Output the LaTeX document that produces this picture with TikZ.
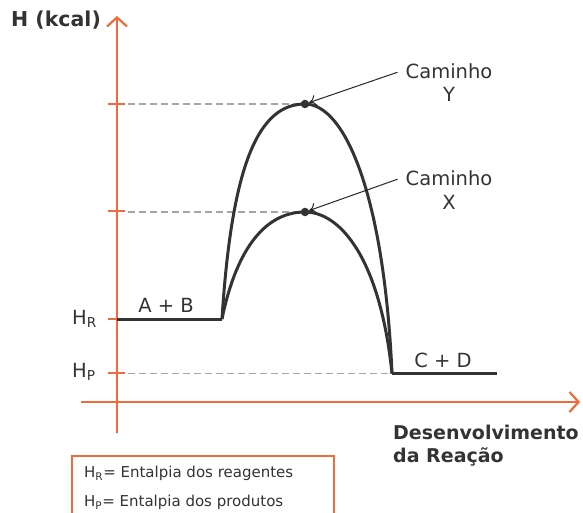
\documentclass[tikz,border=0pt]{standalone}
\usepackage{fontspec}
\setmainfont{DejaVu Sans}
\usetikzlibrary{arrows.meta}
\definecolor{axisor}{RGB}{242,106,60}
\definecolor{ink}{RGB}{51,51,51}
\definecolor{dashgray}{RGB}{165,165,165}
\tikzset{
  axisline/.style={draw=axisor,line width=2.2pt,-{Straight Barb[length=9pt,width=20pt,line width=2.2pt]}},
  tickline/.style={draw=axisor,line width=1.6pt},
  guide/.style={draw=dashgray,line width=1.8pt,dash pattern=on 7pt off 4pt},
  curve/.style={draw=ink,line width=3pt,line join=round},
  pointer/.style={draw=black!85,line width=1pt,-{To[length=7pt,width=11pt]}},
  lbl/.style={text=ink,font=\fontsize{19.5}{23}\selectfont,inner sep=0pt,anchor=base},
  blbl/.style={text=ink,font=\fontsize{19}{23}\selectfont\bfseries,inner sep=0pt,anchor=base west},
  leg/.style={text=ink,font=\fontsize{15}{18}\selectfont,inner sep=0pt,anchor=base west},
  peak/.style={circle,fill=ink,inner sep=0pt,minimum size=8.5pt}
}
\begin{document}
\begin{tikzpicture}[x=1pt,y=-1pt]
\useasboundingbox (0,0) rectangle (583,513);
% axes
\coordinate (ybot) at (117,433);
\coordinate (ytop) at (117,16);
\coordinate (xl) at (81,402);
\coordinate (xr) at (580,402);
\draw[axisline] (ybot) -- (ytop);
\draw[axisline] (xl) -- (xr);
% ticks
\foreach \yy in {104,211,319,373} \draw[tickline] (108,\yy) -- (125,\yy);
% key points
\coordinate (r0) at (117,319);
\coordinate (r1) at (222,319);
\coordinate (p1) at (392,373.5);
\coordinate (p2) at (497,373.5);
\node[peak] (py) at (305,104) {};
\node[peak] (px) at (305,212) {};
% guides
\draw[guide] (128,104) -- (py);
\draw[guide] (128,212) -- (px);
\draw[guide] (128,373.5) -- (p1);
% energy profile
\draw[curve] (r0) -- (r1);
\draw[curve] (r1) .. controls (232,160) and (260,104) .. (py.center)
  .. controls (345,104) and (384,195) .. (p1);
\draw[curve] (r1) .. controls (235,255) and (262,212) .. (px.center)
  .. controls (340,212) and (380,258) .. (p1);
\draw[curve] (p1) -- (p2);
% labels
\node[blbl,font=\fontsize{20.5}{24}\selectfont\bfseries] (hk) at (11,27) {H (kcal)};
\node[lbl,anchor=base west] (hr) at (72,324) {H\textsubscript{R}};
\node[lbl,anchor=base west] (hp) at (72,377) {H\textsubscript{P}};
\node[lbl] (ab) at (166,312) {A + B};
\node[lbl] (cd) at (443,367) {C + D};
\node[lbl] (cy1) at (449,78.5) {Caminho};
\node[lbl] (cy2) at (449,101.5) {Y};
\node[lbl] (cx1) at (449,185.5) {Caminho};
\node[lbl] (cx2) at (449,209) {X};
\draw[pointer] ([xshift=-8pt,yshift=-1pt]cy1.west) -- (py);
\draw[pointer] ([xshift=-8pt,yshift=-1pt]cx1.west) -- (px);
\node[blbl] (dv1) at (393,439.5) {Desenvolvimento};
\node[blbl] (dv2) at (393,462) {da Reação};
% legend
\draw[draw=axisor,line width=1.2pt] (72,515) -- (72,456) -- (334,456) -- (334,515);
\node[leg] (l1) at (84,477.5) {H\textsubscript{R}= Entalpia dos reagentes};
\node[leg] (l2) at (84,506.5) {H\textsubscript{P}= Entalpia dos produtos};
\end{tikzpicture}
\end{document}
